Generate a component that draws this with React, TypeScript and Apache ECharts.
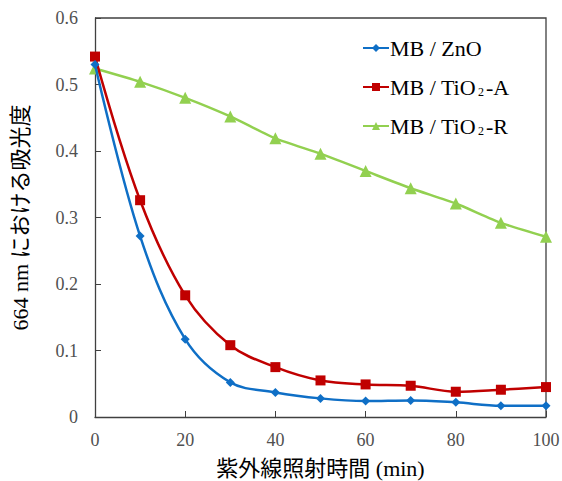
import React, { useEffect, useRef } from "react";
import * as echarts from "echarts";

const times = [0, 10, 20, 30, 40, 50, 60, 70, 80, 90, 100];
const znO = [0.53, 0.272, 0.117, 0.052, 0.037, 0.028, 0.024, 0.025, 0.022, 0.017, 0.017];
const tiO2A = [0.542, 0.326, 0.183, 0.108, 0.075, 0.055, 0.049, 0.047, 0.038, 0.041, 0.045];
const tiO2R = [0.524, 0.504, 0.48, 0.452, 0.419, 0.396, 0.37, 0.344, 0.321, 0.292, 0.271];
const seriesNames = ["MB / ZnO", "MB / TiO2-A", "MB / TiO2-R"];
const xTitle = "紫外線照射時間 (min)";
const yTitle = "664 nm における吸光度";

const serif = "'Liberation Serif', 'Noto Sans CJK JP', serif";

export default function App() {
  const ref = useRef<HTMLDivElement>(null);
  useEffect(() => {
    if (!ref.current) return;
    const chart = echarts.init(ref.current, undefined, { renderer: "svg" });
    const pts = (arr: number[]) => times.map((t, i) => [t, arr[i]]);
    chart.setOption({
      animation: false,
      grid: { left: 95, right: 16, top: 18, bottom: 64, containLabel: false, outerBoundsMode: "none" },
      legend: {
        orient: "vertical",
        left: 357,
        top: 32,
        itemGap: 17,
        itemWidth: 26,
        itemHeight: 10,
        data: seriesNames,
        formatter: (n: string) => n.replace("TiO2", "TiO{sub|2}"),
        textStyle: {
          fontFamily: serif,
          fontSize: 22,
          color: "#000",
          padding: [0, 0, 0, -4],
          rich: { sub: { fontFamily: serif, fontSize: 12, color: "#000", verticalAlign: "bottom", padding: [9, 2, 0, 2] } },
        },
      },
      xAxis: {
        type: "value",
        min: 0,
        max: 100,
        interval: 20,
        name: xTitle,
        nameLocation: "middle",
        nameGap: 40,
        nameTextStyle: { fontFamily: serif, fontSize: 22, color: "#000" },
        axisLine: { lineStyle: { color: "#404040", width: 1.3 } },
        axisTick: { inside: true, length: 6, lineStyle: { color: "#404040" } },
        axisLabel: { fontFamily: serif, fontSize: 18, color: "#505050", margin: 14 },
        splitLine: { show: false },
      },
      yAxis: {
        type: "value",
        min: 0,
        max: 0.6,
        interval: 0.1,
        name: yTitle,
        nameLocation: "middle",
        nameGap: 64,
        nameTextStyle: { fontFamily: serif, fontSize: 22, color: "#000" },
        axisLine: { show: true, lineStyle: { color: "#404040", width: 1.3 } },
        axisTick: { show: true, inside: true, length: 6, lineStyle: { color: "#404040" } },
        axisLabel: {
          fontFamily: serif,
          fontSize: 18,
          color: "#505050",
          margin: 17,
          formatter: (v: number) => (v === 0 ? "0" : v.toFixed(1)),
        },
        splitLine: { show: false },
      },
      graphic: [
        {
          type: "polyline",
          shape: { points: [[95, 18], [546, 18], [546, 417]] },
          style: { stroke: "#404040", lineWidth: 1.3, fill: "none" },
          silent: true,
        },
      ],
      series: [
        {
          name: seriesNames[0],
          type: "line",
          data: pts(znO),
          smooth: 0.35,
          symbol: "diamond",
          symbolSize: 9,
          lineStyle: { color: "#0F6FC6", width: 2.5 },
          itemStyle: { color: "#0F6FC6" },
          z: 4,
        },
        {
          name: seriesNames[1],
          type: "line",
          data: pts(tiO2A),
          smooth: 0.35,
          symbol: "rect",
          symbolSize: 10,
          lineStyle: { color: "#C00000", width: 2.5 },
          itemStyle: { color: "#C00000" },
          z: 3,
        },
        {
          name: seriesNames[2],
          type: "line",
          data: pts(tiO2R),
          smooth: 0.2,
          symbol: "triangle",
          symbolSize: 12,
          lineStyle: { color: "#92D050", width: 2.5 },
          itemStyle: { color: "#92D050" },
          z: 2,
        },
      ],
    });
    return () => chart.dispose();
  }, []);
  return <div ref={ref} style={{ width: 562, height: 481, position: "absolute", left: 0, top: 0 }} />;
}
